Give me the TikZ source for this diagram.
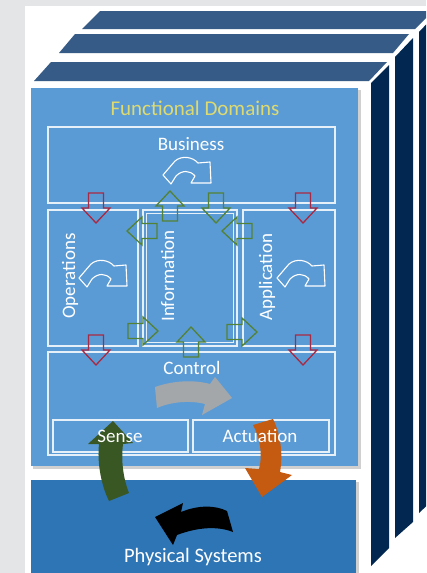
\documentclass[tikz,border=0pt]{standalone}
\usepackage{fontspec}
\setmainfont{Carlito}
\definecolor{bgc}{RGB}{228,229,230}
\definecolor{slabc}{RGB}{54,91,134}
\definecolor{stripc}{RGB}{2,40,82}
\definecolor{panelc}{RGB}{91,155,213}
\definecolor{physc}{RGB}{46,117,182}
\definecolor{titlec}{RGB}{222,218,110}
\definecolor{redc}{RGB}{170,40,65}
\definecolor{grnc}{RGB}{84,130,53}
\definecolor{sensec}{RGB}{56,87,35}
\definecolor{actc}{RGB}{197,90,17}
\definecolor{grayc}{RGB}{168,168,168}
\tikzset{
  wbox/.style={draw=white, line width=1.2pt, draw opacity=0.85},
  lbl/.style={text=white, font=\fontsize{19}{19}\selectfont, anchor=base, inner sep=0pt},
  barrow/.pic={\path[pic actions] (0,-7.5) -- (15,-7.5) -- (15,-14) -- (30,0) -- (15,14) -- (15,7.5) -- (0,7.5) -- cycle;},
  curvy/.pic={\draw[white, line width=1.1pt, line join=round]
     (-24,4) -- (-12,-10) .. controls (-5,-16) and (6,-14) .. (11,-8)
     -- (23,-9) -- (24,12) -- (4,12) -- (8,5)
     .. controls (3,-1) and (-5,-1) .. (-11,5) -- (-16,13) -- cycle;}
}
\begin{document}
\begin{tikzpicture}[x=1pt,y=-1pt]
\useasboundingbox (0,0) rectangle (426,573);
\clip (0,0) rectangle (426,573);
\fill[bgc] (0,0) rectangle (426,573);
\fill[white] (25,6) rectangle (426,573);
% slabs
\fill[slabc] (82,29) -- (100,11) -- (433,11) -- (415,29) -- cycle;
\fill[slabc] (59,53) -- (75,34) -- (409,34) -- (393,53) -- cycle;
\fill[slabc] (34,81) -- (51,62) -- (387,62) -- (369,81) -- cycle;
\fill[stripc] (419,32) -- (437,13) -- (437,496) -- (419,513) -- cycle;
\fill[stripc] (395,57) -- (413,38) -- (413,522) -- (395,538) -- cycle;
\fill[stripc] (371,83) -- (389,65) -- (389,548) -- (371,566) -- cycle;
% panels
\fill[black!30, opacity=0.6] (33,90) rectangle (361,469);
\fill[panelc] (31,88) rectangle (358,466);
\fill[black!30, opacity=0.6] (33,482) rectangle (359,575);
\fill[physc] (31,480) rectangle (356,575);
% boxes
\draw[wbox] (48,127) rectangle (335,203);
\draw[wbox] (48,210) rectangle (138,346);
\draw[wbox] (143,210) rectangle (237,346);
\draw[wbox] (146.5,213.5) rectangle (233.5,342.5);
\draw[wbox] (243,210) rectangle (335,346);
\draw[wbox] (48,352) rectangle (335,455);
\draw[wbox] (53,420) rectangle (188,452);
\draw[wbox] (193,420) rectangle (329,452);
% icons
\pic at (187,171) {curvy};
\pic at (103,274) {curvy};
\pic at (301,274) {curvy};
% red arrows
\pic[draw=redc, line width=1.3pt, rotate=-90] at (96,193) {barrow};
\pic[draw=redc, line width=1.3pt, rotate=-90] at (303,193) {barrow};
\pic[draw=redc, line width=1.3pt, rotate=-90] at (96,335) {barrow};
\pic[draw=redc, line width=1.3pt, rotate=-90] at (303,335) {barrow};
% green arrows
\pic[draw=grnc, line width=1.3pt, rotate=90] at (170,221) {barrow};
\pic[draw=grnc, line width=1.3pt, rotate=-90] at (216,193) {barrow};
\pic[draw=grnc, line width=1.3pt, rotate=180] at (157,231) {barrow};
\pic[draw=grnc, line width=1.3pt, rotate=180] at (252,231) {barrow};
\pic[draw=grnc, line width=1.3pt] at (128,331) {barrow};
\pic[draw=grnc, line width=1.3pt] at (227,332) {barrow};
\pic[draw=grnc, line width=1.3pt, rotate=90] at (191,357) {barrow};
% gray arrow
\fill[grayc, opacity=0.95] (155,387) .. controls (175,380) and (195,380) .. (210,384) -- (215,377) -- (232,398) -- (202,415) -- (205,404) .. controls (190,400) and (170,402) .. (157,408) -- cycle;
% texts
\node[lbl, text=titlec, font=\fontsize{21}{21}\selectfont] (title) at (195,115) {Functional Domains};
\node[lbl] (business) at (191,150) {Business};
\node[lbl] (control) at (192,374) {Control};
\node[lbl, rotate=90] (operations) at (75,276) {Operations};
\node[lbl, rotate=90] (information) at (174,276) {Information};
\node[lbl, rotate=90] (application) at (272,277) {Application};
% big arrows
\fill[sensec] (113,421) -- (133,443) -- (123,444) .. controls (121,460) and (123,478) .. (129,493) -- (109,501) .. controls (101,485) and (97,462) .. (99,444) -- (88,444) -- cycle;
\fill[actc] (253,425) -- (273,419) .. controls (281,435) and (283,455) .. (280,472) -- (292,475) -- (262,497) -- (245,468) -- (259,469) .. controls (263,455) and (260,438) .. (253,425) -- cycle;
\fill[black] (155,517) -- (183,503) -- (181,512) .. controls (198,505) and (215,505) .. (227,511) -- (233,532) .. controls (218,526) and (198,527) .. (177,535) -- (173,545) -- cycle;
\node[lbl] (sense) at (120,442) {Sense};
\node[lbl] (actuation) at (260,442) {Actuation};
\node[lbl, font=\fontsize{20.5}{20.5}\selectfont] (phys) at (193,562) {Physical Systems};
\end{tikzpicture}
\end{document}
